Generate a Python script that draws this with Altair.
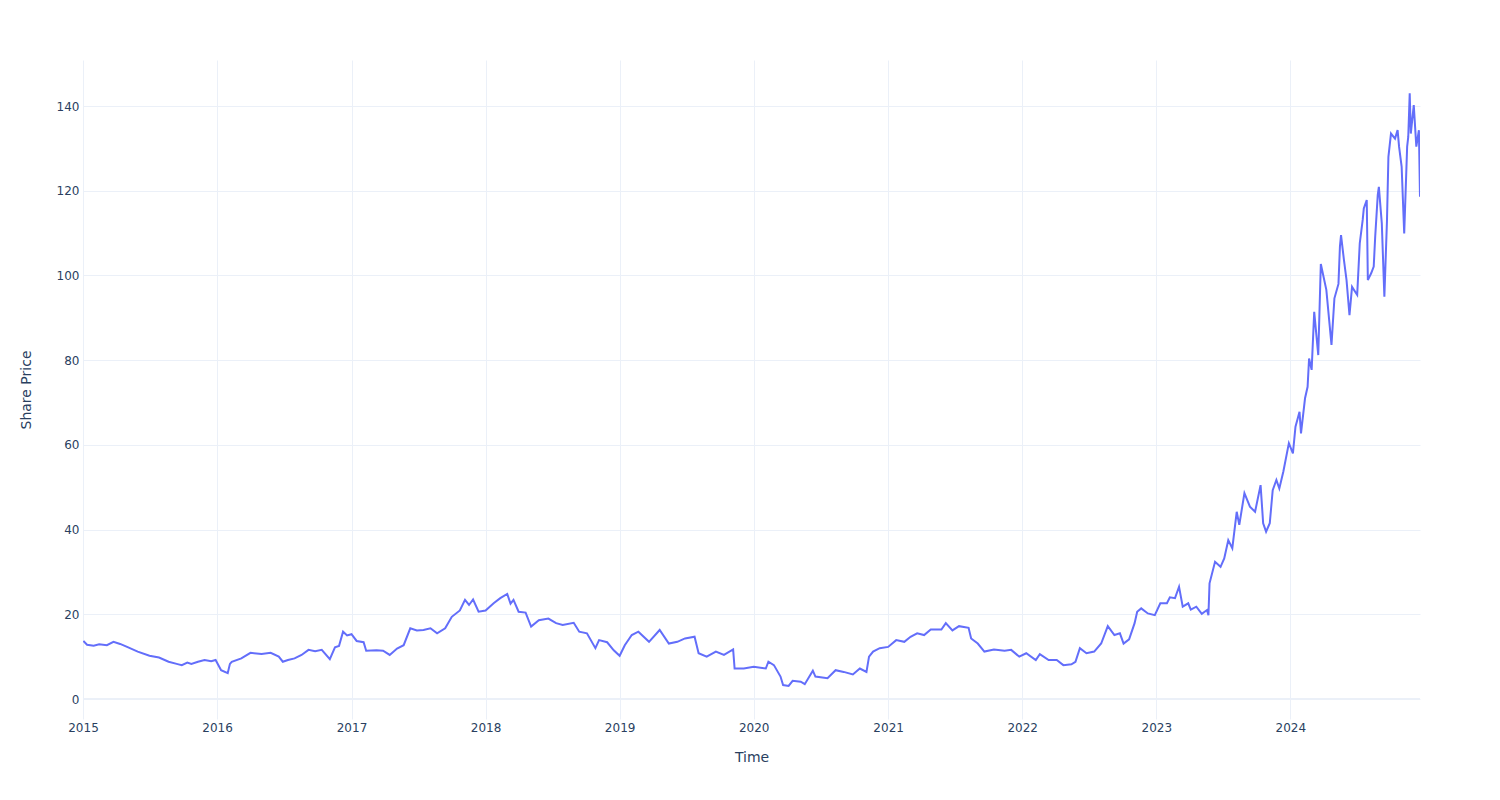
import altair as alt
import pandas as pd

dates = [
    "2015-01-02", "2015-01-12", "2015-01-30", "2015-02-14", "2015-03-07", "2015-03-25",
    "2015-04-12", "2015-05-01", "2015-05-30", "2015-07-01", "2015-07-27", "2015-08-22",
    "2015-09-13", "2015-09-27", "2015-10-12", "2015-10-23", "2015-11-10", "2015-11-28",
    "2015-12-16", "2015-12-28",
    "2016-01-12", "2016-01-30", "2016-02-05", "2016-02-10", "2016-03-07", "2016-04-01",
    "2016-05-01", "2016-05-26", "2016-06-17", "2016-06-28", "2016-07-12", "2016-07-30",
    "2016-08-18", "2016-09-06", "2016-09-24", "2016-10-12", "2016-11-03", "2016-11-17",
    "2016-11-28", "2016-12-09", "2016-12-20",
    "2017-01-01", "2017-01-15", "2017-02-03", "2017-02-10", "2017-03-10", "2017-03-28",
    "2017-04-15", "2017-05-05", "2017-05-23", "2017-06-10", "2017-06-28", "2017-07-16",
    "2017-08-04", "2017-08-22", "2017-09-13", "2017-10-01", "2017-10-23", "2017-11-06",
    "2017-11-17", "2017-11-28", "2017-12-13",
    "2018-01-01", "2018-01-23", "2018-02-10", "2018-03-01", "2018-03-10", "2018-03-18",
    "2018-04-01", "2018-04-20", "2018-05-05", "2018-05-26", "2018-06-21", "2018-07-12",
    "2018-07-30", "2018-08-29", "2018-09-13", "2018-10-04", "2018-10-27", "2018-11-06",
    "2018-11-28", "2018-12-16",
    "2019-01-01", "2019-01-15", "2019-02-03", "2019-02-21", "2019-03-22", "2019-04-20",
    "2019-05-15", "2019-06-07", "2019-06-28", "2019-07-24", "2019-08-04", "2019-08-26",
    "2019-09-20", "2019-10-12", "2019-11-06", "2019-11-10", "2019-12-05",
    "2020-01-01", "2020-02-03", "2020-02-10", "2020-02-25", "2020-03-14", "2020-03-21",
    "2020-04-05", "2020-04-16", "2020-05-08", "2020-05-19", "2020-06-10", "2020-06-17",
    "2020-07-20", "2020-08-11", "2020-09-02", "2020-09-27", "2020-10-16", "2020-11-03",
    "2020-11-10", "2020-11-21", "2020-12-09",
    "2021-01-01", "2021-01-23", "2021-02-14", "2021-03-03", "2021-03-21", "2021-04-09",
    "2021-04-27", "2021-05-26", "2021-06-07", "2021-06-25", "2021-07-13", "2021-08-08",
    "2021-08-15", "2021-09-02", "2021-09-20", "2021-10-16", "2021-11-14", "2021-12-02",
    "2021-12-24",
    "2022-01-12", "2022-02-07", "2022-02-18", "2022-03-14", "2022-04-05", "2022-04-23",
    "2022-05-15", "2022-05-26", "2022-06-07", "2022-06-25", "2022-07-16", "2022-08-04",
    "2022-08-22", "2022-09-09", "2022-09-24", "2022-10-04", "2022-10-19", "2022-11-03",
    "2022-11-10", "2022-11-21", "2022-12-09", "2022-12-28",
    "2023-01-12", "2023-01-30", "2023-02-07", "2023-02-21", "2023-03-04", "2023-03-14",
    "2023-03-29", "2023-04-05", "2023-04-20", "2023-05-05", "2023-05-19", "2023-05-23",
    "2023-05-26", "2023-06-10", "2023-06-25", "2023-07-05", "2023-07-16", "2023-07-27",
    "2023-08-08", "2023-08-15", "2023-08-29", "2023-09-13", "2023-09-27", "2023-10-12",
    "2023-10-19", "2023-10-27", "2023-11-06", "2023-11-14", "2023-11-24", "2023-12-02",
    "2023-12-13", "2023-12-28",
    "2024-01-08", "2024-01-15", "2024-01-26", "2024-01-30", "2024-02-10", "2024-02-17",
    "2024-02-21", "2024-02-28", "2024-03-06", "2024-03-17", "2024-03-24", "2024-04-08",
    "2024-04-22", "2024-04-30", "2024-05-11", "2024-05-15", "2024-05-18", "2024-05-26",
    "2024-06-02", "2024-06-10", "2024-06-17", "2024-07-01", "2024-07-08", "2024-07-16",
    "2024-07-19", "2024-07-27", "2024-07-30", "2024-08-08", "2024-08-15", "2024-08-19",
    "2024-08-26", "2024-08-29", "2024-09-06", "2024-09-13", "2024-09-20", "2024-09-24",
    "2024-10-01", "2024-10-12", "2024-10-19", "2024-10-23", "2024-10-30", "2024-11-06",
    "2024-11-14", "2024-11-17", "2024-11-21", "2024-11-24", "2024-12-02", "2024-12-09",
    "2024-12-16", "2024-12-19",
]

prices = [
    13.7, 12.8, 12.6, 12.9, 12.7, 13.5,
    13.0, 12.3, 11.2, 10.2, 9.8, 8.8,
    8.3, 8.0, 8.6, 8.3, 8.8, 9.2,
    8.9, 9.2,
    6.8, 6.1, 8.3, 8.8, 9.6, 10.9,
    10.6, 10.9, 10.0, 8.8, 9.2, 9.6,
    10.4, 11.6, 11.3, 11.6, 9.4, 12.2,
    12.5, 15.9, 15.0,
    15.3, 13.7, 13.4, 11.4, 11.5, 11.4,
    10.4, 11.9, 12.7, 16.7, 16.2, 16.3,
    16.7, 15.5, 16.7, 19.4, 20.9, 23.4,
    22.2, 23.5, 20.6,
    20.9, 22.6, 23.8, 24.8, 22.5, 23.4,
    20.6, 20.4, 17.1, 18.6, 19.0, 17.9,
    17.5, 18.0, 15.9, 15.5, 12.0, 13.9,
    13.4, 11.5,
    10.2, 12.7, 15.1, 15.9, 13.5, 16.3,
    13.1, 13.5, 14.3, 14.7, 10.8, 10.0,
    11.2, 10.4, 11.7, 7.2, 7.2,
    7.6, 7.2, 8.8, 8.0, 5.3, 3.3,
    3.1, 4.3, 4.1, 3.5, 6.7, 5.3,
    4.9, 6.8, 6.4, 5.8, 7.2, 6.4,
    10.0, 11.2, 12.0,
    12.3, 13.9, 13.5, 14.7, 15.5, 15.1,
    16.4, 16.4, 17.9, 16.2, 17.2, 16.8,
    14.3, 13.1, 11.2, 11.7, 11.4, 11.6,
    10.0,
    10.8, 9.2, 10.6, 9.2, 9.2, 8.0,
    8.2, 8.8, 12.0, 10.8, 11.2, 13.1,
    17.2, 15.1, 15.5, 13.1, 14.1, 17.9,
    20.6, 21.4, 20.2, 19.8,
    22.6, 22.6, 24.0, 23.8, 26.5, 21.8,
    22.6, 21.1, 21.8, 20.1, 21.0, 19.8,
    27.3, 32.4, 31.2, 33.2, 37.5, 35.6,
    44.2, 41.1, 48.6, 45.4, 44.2, 50.5,
    41.5, 39.5, 41.5, 49.3, 51.7, 49.7,
    53.7, 60.4,
    58.0, 64.3, 67.8, 62.7, 71.0, 73.7,
    80.4, 77.7, 91.4, 81.2, 102.7, 96.6,
    83.6, 94.6, 98.0, 106.8, 109.5, 103.6,
    98.9, 90.6, 97.3, 95.4, 107.6, 113.1,
    115.8, 117.8, 98.9, 100.5, 102.1, 109.1,
    119.0, 120.9, 112.3, 95.0, 112.7, 128.0,
    133.5, 132.3, 134.3, 130.4, 125.7, 109.9,
    130.4, 132.7, 143.0, 133.5, 140.2, 130.4,
    134.3, 118.6,
]

y_ticks = [0, 20, 40, 60, 80, 100, 120, 140]
year_ticks = [f"{y}-01-01" for y in range(2015, 2025)]

df = pd.DataFrame({"Time": pd.to_datetime(dates), "Price": prices})

FONT = "DejaVu Sans"
TEXT = "#2a3f5f"
GRID = "#EBF0F8"

x_scale = alt.Scale(domain=["2015-01-01", "2024-12-19"], nice=False)
y_scale = alt.Scale(domain=[-4.72, 150.86], nice=False, zero=False)

line = alt.Chart(df).mark_line(color="#636efa", strokeWidth=2, clip=True).encode(
    x=alt.X(
        "Time:T",
        scale=x_scale,
        axis=alt.Axis(
            title="Time",
            values=[pd.Timestamp(d).isoformat() for d in year_ticks],
            format="%Y",
            labelFlush=False,
            labelOverlap=False,
            domain=False,
            ticks=False,
            tickSize=0,
            labelPadding=3,
            titlePadding=17,
            grid=True,
        ),
    ),
    y=alt.Y(
        "Price:Q",
        scale=y_scale,
        axis=alt.Axis(
            title="Share Price",
            values=y_ticks,
            domain=False,
            ticks=False,
            tickSize=0,
            labelPadding=4,
            titlePadding=23,
            grid=True,
        ),
    ),
)

zero = alt.Chart(pd.DataFrame({"y": [0]})).mark_rule(color=GRID, strokeWidth=2).encode(
    y=alt.Y("y:Q", scale=y_scale)
)

chart = (
    alt.layer(zero, line)
    .properties(
        width=1337,
        height=659,
        autosize=alt.AutoSizeParams(type="none"),
        padding={"left": 83, "top": 60, "right": 80, "bottom": 81},
        background="white",
    )
    .configure_view(stroke=None)
    .configure_axis(
        gridColor=GRID,
        gridWidth=1,
        labelFont=FONT,
        labelFontSize=12,
        labelColor=TEXT,
        titleFont=FONT,
        titleFontSize=14,
        titleColor=TEXT,
        titleFontWeight="normal",
    )
)

chart.save("out.html", embed_options={"renderer": "svg", "actions": False})
